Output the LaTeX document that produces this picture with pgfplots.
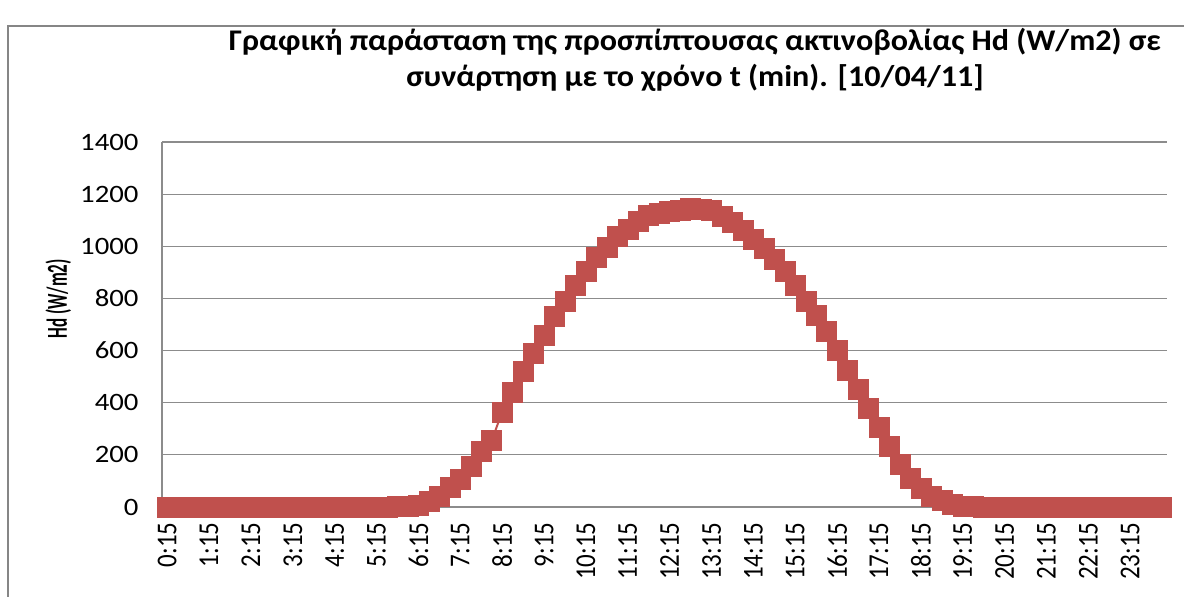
\documentclass[border=0pt]{standalone}
\usepackage{fontspec}
\setmainfont{Carlito}
\usepackage{pgfplots}
\pgfplotsset{compat=1.18}
\definecolor{series}{HTML}{C0504D}
\definecolor{gridc}{HTML}{8C8C8C}
\definecolor{framec}{HTML}{868686}

\pgfplotstableread{
i val
1 0
2 0
3 0
4 0
5 0
6 0
7 0
8 0
9 0
10 0
11 0
12 0
13 0
14 0
15 0
16 0
17 0
18 0
19 0
20 0
21 0
22 0
23 1
24 3
25 8
26 22
27 43
28 77
29 107
30 155
31 214
32 255
33 365
34 440
35 520
36 588
37 657
38 733
39 790
40 852
41 905
42 957
43 996
44 1037
45 1067
46 1095
47 1119
48 1127
49 1136
50 1140
51 1145
52 1142
53 1137
54 1117
55 1093
56 1063
57 1028
58 993
59 951
60 903
61 852
62 788
63 737
64 673
65 600
66 526
67 452
68 379
69 305
70 232
71 163
72 112
73 72
74 43
75 24
76 12
77 4
78 1
79 0
80 0
81 0
82 0
83 0
84 0
85 0
86 0
87 0
88 0
89 0
90 0
91 0
92 0
93 0
94 0
95 0
96 0
}\hd

% stretched labels, as in the reference
\newcommand{\yl}[1]{\scalebox{1.15}[1]{#1}}
\newcommand{\xl}[1]{\scalebox{1}[1.15]{#1}}

\begin{document}
\begin{tikzpicture}[x=1pt,y=1pt]
\useasboundingbox (0,0) rectangle (1184,597);
% chart frame (cut at right and bottom)
\draw[framec, line width=1.5pt] (8,0) -- (8,571) -- (1184,571);
\node[font=\fontsize{30}{36}\selectfont\bfseries, align=center] at (695,537)
  {\scalebox{1.07}[1]{Γραφική παράσταση της προσπίπτουσας ακτινοβολίας Hd (W/m2) σε}\\
   \scalebox{1.07}[1]{συνάρτηση με το χρόνο t (min). [10/04/11]}};
\begin{axis}[
  at={(162pt,90pt)}, anchor=south west,
  scale only axis, width=1005pt, height=365pt,
  xmin=0.5, xmax=96.5, ymin=0, ymax=1400,
  ytick={0,200,...,1400},
  yticklabels={\yl{0},\yl{200},\yl{400},\yl{600},\yl{800},\yl{1000},\yl{1200},\yl{1400}},
  xtick={1,5,...,93},
  xticklabels={\xl{0:15},\xl{1:15},\xl{2:15},\xl{3:15},\xl{4:15},\xl{5:15},\xl{6:15},
    \xl{7:15},\xl{8:15},\xl{9:15},\xl{10:15},\xl{11:15},\xl{12:15},\xl{13:15},
    \xl{14:15},\xl{15:15},\xl{16:15},\xl{17:15},\xl{18:15},\xl{19:15},\xl{20:15},
    \xl{21:15},\xl{22:15},\xl{23:15}},
  axis lines*=left, axis line style={draw=gridc, line width=1.2pt},
  tick style={draw=none},
  ymajorgrids, grid style={draw=gridc, line width=1.2pt},
  yticklabel style={font=\fontsize{25}{28}\selectfont, xshift=-20pt},
  xticklabel style={font=\fontsize{25}{28}\selectfont, rotate=90, anchor=east},
  xticklabel shift=12pt,
  ylabel={\scalebox{1}[1.7]{Hd (W/m2)}},
  ylabel style={font=\fontsize{17}{20}\selectfont\bfseries, at={(ticklabel cs:0.57)}, yshift=2pt},
  clip=false,
]
\addplot[color=series, line width=2pt, mark=square*, mark size=10pt,
  mark options={fill=series, draw=series, line width=0.5pt}] table[x=i, y=val] {\hd};
\end{axis}
\end{tikzpicture}
\end{document}
